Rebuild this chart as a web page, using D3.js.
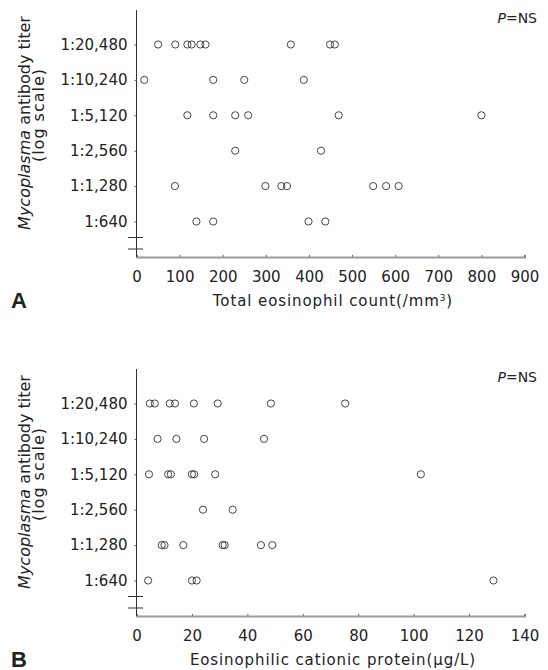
<!DOCTYPE html>
<html>
<head>
<meta charset="utf-8">
<script src="https://cdn.jsdelivr.net/npm/d3@7"></script>
<style>
  body { margin: 0; background: #fff; }
  svg { display: block; }
  text { font-family: "DejaVu Sans", sans-serif; fill: #222; }
</style>
</head>
<body>
<svg id="chart" width="548" height="670"></svg>
<script>
// titer levels (reciprocal) and labels
const titers = [640, 1280, 2560, 5120, 10240, 20480];
const titerLabels = ["1:640", "1:1,280", "1:2,560", "1:5,120", "1:10,240", "1:20,480"];

// panel A: total eosinophil count (/mm3), grouped by titer
const eosA20480 = [50, 90, 118, 128, 148, 160, 358, 449, 460];
const eosA10240 = [18, 178, 250, 388];
const eosA5120 = [118, 178, 229, 259, 469, 800];
const eosA2560 = [229, 428];
const eosA1280 = [89, 299, 336, 349, 549, 579, 608];
const eosA640 = [139, 178, 399, 438];
const ticksA = [0, 100, 200, 300, 400, 500, 600, 700, 800, 900];

// panel B: eosinophilic cationic protein (ug/L), grouped by titer
const ecpB20480 = [4.8, 6.6, 12, 13.9, 20.7, 29.3, 48.5, 75.3];
const ecpB10240 = [7.6, 14.4, 24.4, 46];
const ecpB5120 = [4.5, 11.4, 12.4, 20, 20.8, 28.4, 102.6];
const ecpB2560 = [24, 34.7];
const ecpB1280 = [9.1, 10.1, 16.9, 31.1, 31.8, 44.9, 49];
const ecpB640 = [4.2, 20, 21.7, 128.8];
const ticksB = [0, 20, 40, 60, 80, 100, 120, 140];

function toPoints(groups) {
    const pts = [];
    groups.forEach(([titer, vals]) => vals.forEach(v => pts.push({ titer, v })));
    return pts;
}

const pointsA = toPoints([[20480, eosA20480], [10240, eosA10240], [5120, eosA5120],
                          [2560, eosA2560], [1280, eosA1280], [640, eosA640]]);
const pointsB = toPoints([[20480, ecpB20480], [10240, ecpB10240], [5120, ecpB5120],
                          [2560, ecpB2560], [1280, ecpB1280], [640, ecpB640]]);

const svg = d3.select("#chart");

function drawPanel(offsetY, points, xMax, xTicks, xTitle, letter) {
    const g = svg.append("g").attr("transform", `translate(0,${offsetY})`);

    const x = d3.scaleLinear().domain([0, xMax]).range([136.5, 524.5]);
    const y = d3.scaleLog().base(2).domain([640, 20480]).range([221.5, 44.5]);
    const yBottom = y(320);

    // x axis (gray)
    const xAxis = g.append("g")
        .attr("transform", `translate(0,${yBottom})`)
        .call(d3.axisBottom(x).tickValues(xTicks).tickSize(-2).tickPadding(14));
    xAxis.select(".domain").attr("stroke", "#999").attr("stroke-width", 2);
    xAxis.selectAll(".tick line").attr("stroke", "#666");
    xAxis.selectAll(".tick text")
        .style("font-size", "15px")
        .style("font-family", "DejaVu Sans, sans-serif")
        .attr("fill", "#222");

    // y axis
    const yAxis = g.append("g")
        .attr("transform", "translate(136.5,0)")
        .call(d3.axisLeft(y).tickValues(titers).tickFormat((d, i) => titerLabels[i])
            .tickSize(2).tickPadding(7));
    yAxis.select(".domain").remove();
    yAxis.selectAll(".tick line").attr("stroke", "#555");
    yAxis.selectAll(".tick text")
        .style("font-size", "15px")
        .style("font-family", "DejaVu Sans, sans-serif")
        .attr("fill", "#222");

    g.append("line")
        .attr("x1", 136.5).attr("x2", 136.5)
        .attr("y1", 10).attr("y2", yBottom)
        .attr("stroke", "#333").attr("stroke-width", 1);

    // axis break marks
    [y(640) + 16, y(640) + 27.5].forEach(by => {
        g.append("line")
            .attr("x1", 128).attr("x2", 143)
            .attr("y1", by).attr("y2", by)
            .attr("stroke", "#333").attr("stroke-width", 1);
    });

    // points
    g.selectAll("circle.pt")
        .data(points)
        .enter().append("circle")
        .attr("class", "pt")
        .attr("cx", d => x(d.v))
        .attr("cy", d => y(d.titer))
        .attr("r", 3.6)
        .attr("fill", "none")
        .attr("stroke", "#333")
        .attr("stroke-width", 0.9);

    // y title
    const yt = g.append("text")
        .attr("transform", `translate(30,123) rotate(-90)`)
        .attr("text-anchor", "middle")
        .style("font-size", "16px");
    yt.append("tspan").style("font-style", "italic").text("Mycoplasma");
    yt.append("tspan").text(" antibody titer");

    g.append("text")
        .attr("transform", `translate(44,115) rotate(-90)`)
        .attr("text-anchor", "middle")
        .style("font-size", "16px")
        .style("letter-spacing", "1px")
        .text("(log scale)");

    // x title
    const xt = g.append("text")
        .attr("x", 333).attr("y", 305.5)
        .attr("text-anchor", "middle")
        .style("font-size", "15px")
        .style("letter-spacing", "0.9px");
    xTitle.forEach(part => {
        const ts = xt.append("tspan").text(part.t);
        if (part.sup) ts.style("font-size", "9px").attr("dy", -5);
        if (part.after) ts.attr("dy", 5);
    });

    // P=NS
    const p = g.append("text")
        .attr("x", 537).attr("y", 23.3)
        .attr("text-anchor", "end")
        .style("font-size", "14px");
    p.append("tspan").style("font-style", "italic").text("P");
    p.append("tspan").text("=NS");

    // panel letter
    g.append("text")
        .attr("x", 11).attr("y", 307.5)
        .style("font-size", "22px")
        .style("font-weight", "bold")
        .style("font-family", "Liberation Sans, Arial, sans-serif")
        .attr("fill", "#111")
        .text(letter);
}

drawPanel(0, pointsA, 900, ticksA,
    [{ t: "Total eosinophil count(/mm" }, { t: "3", sup: true }, { t: ")", after: true }], "A");
drawPanel(359, pointsB, 140, ticksB,
    [{ t: "Eosinophilic cationic protein(\u00b5g/L)" }], "B");
</script>
</body>
</html>
